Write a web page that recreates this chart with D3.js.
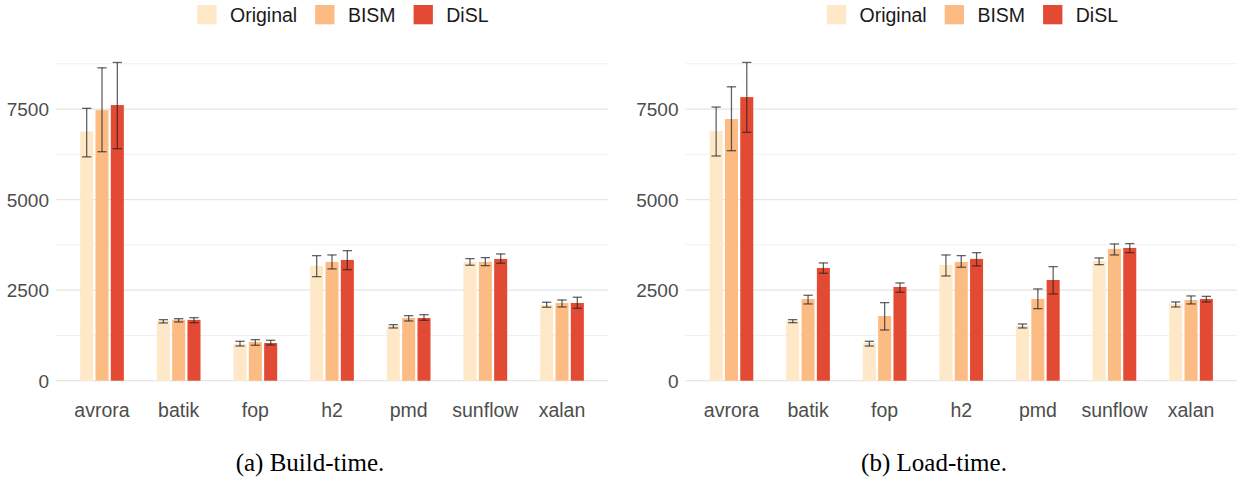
<!DOCTYPE html>
<html>
<head>
<meta charset="utf-8">
<script src="https://cdn.jsdelivr.net/npm/d3@7"></script>
<style>
  body { margin: 0; background: #fff; }
  svg { display: block; }
</style>
</head>
<body>
<div id="chart"></div>
<script>
// benchmarks and series
const benchmarks = ["avrora", "batik", "fop", "h2", "pmd", "sunflow", "xalan"];
const series = ["Original", "BISM", "DiSL"];
const yTicks = [0, 2500, 5000, 7500];
const captions = ["(a) Build-time.", "(b) Load-time."];

// build-time: mean, lower and upper error
const buildOriginal = [6880, 1650, 1015, 3170, 1511, 3279, 2091];
const buildOriginalLo = [6180, 1594, 958, 2873, 1456, 3188, 2028];
const buildOriginalHi = [7520, 1685, 1088, 3453, 1547, 3370, 2166];
const buildBISM = [7470, 1685, 1069, 3279, 1732, 3279, 2146];
const buildBISMLo = [6322, 1622, 978, 3086, 1649, 3177, 2036];
const buildBISMHi = [8638, 1713, 1133, 3472, 1796, 3398, 2229];
const buildDiSL = [7610, 1680, 1041, 3334, 1732, 3362, 2146];
const buildDiSLLo = [6405, 1603, 986, 3066, 1668, 3243, 2000];
const buildDiSLHi = [8786, 1741, 1116, 3591, 1823, 3500, 2304];

// load-time: mean, lower and upper error
const loadOriginal = [6893, 1649, 1041, 3196, 1511, 3307, 2119];
const loadOriginalLo = [6204, 1602, 958, 2892, 1456, 3204, 2036];
const loadOriginalHi = [7555, 1685, 1088, 3472, 1566, 3389, 2174];
const loadBISM = [7224, 2257, 1787, 3279, 2257, 3638, 2229];
const loadBISMLo = [6350, 2119, 1400, 3133, 1989, 3472, 2119];
const loadBISMHi = [8114, 2359, 2155, 3453, 2533, 3776, 2340];
const loadDiSL = [7830, 3113, 2588, 3362, 2781, 3666, 2257];
const loadDiSLLo = [6857, 2966, 2442, 3169, 2395, 3536, 2174];
const loadDiSLHi = [8787, 3251, 2699, 3536, 3149, 3785, 2329];

const width = 1242, height = 479;

const svg = d3.select("#chart")
  .append("svg")
    .attr("width", width)
    .attr("height", height);

const color = d3.scaleOrdinal()
  .domain(series)
  .range(["#fee8c8", "#fdbb84", "#e34a33"]);

// turn the arrays into rows for one panel
function rows(means, los, his) {
  const out = [];
  benchmarks.forEach((b, i) => {
    series.forEach((s, j) => {
      out.push({ bench: b, series: s, value: means[j][i], lo: los[j][i], hi: his[j][i] });
    });
  });
  return out;
}

const panels = [
  { left: 56, right: 608, capX: 310, data: rows([buildOriginal, buildBISM, buildDiSL], [buildOriginalLo, buildBISMLo, buildDiSLLo], [buildOriginalHi, buildBISMHi, buildDiSLHi]) },
  { left: 685.5, right: 1237, capX: 934, data: rows([loadOriginal, loadBISM, loadDiSL], [loadOriginalLo, loadBISMLo, loadDiSLLo], [loadOriginalHi, loadBISMHi, loadDiSLHi]) }
];

panels.forEach(function(p, k) {
  const g = svg.append("g");

  const x = d3.scaleBand()
    .domain(benchmarks)
    .range([p.left, p.right])
    .paddingInner(0)
    .paddingOuter(0.1);

  const groupW = x.bandwidth() * 0.6;
  const x1 = d3.scaleBand()
    .domain(series)
    .range([-groupW / 2, groupW / 2])
    .paddingInner(0.15)
    .paddingOuter(0.075);

  const y = d3.scaleLinear()
    .domain([0, 9000])
    .range([380.7, 380.7 - 9000 * 0.03622]);

  // grid lines (major and minor)
  const grid = d3.range(0, 8751, 1250);
  g.selectAll(".grid")
    .data(grid)
    .enter()
    .append("line")
      .attr("x1", p.left)
      .attr("x2", p.right)
      .attr("y1", d => y(d))
      .attr("y2", d => y(d))
      .attr("stroke", d => d % 2500 === 0 ? "#e6e6e6" : "#eeeeee")
      .attr("stroke-width", d => d % 2500 === 0 ? 1.2 : 0.9);

  // y axis labels
  g.append("g")
    .attr("transform", `translate(${p.left - 7},0)`)
    .call(d3.axisLeft(y).tickValues(yTicks).tickFormat(d3.format("d")).tickSize(0).tickPadding(0))
    .call(a => a.select(".domain").remove())
    .selectAll("text")
      .style("font-family", "'Liberation Sans', Arial, sans-serif")
      .style("font-size", "19px")
      .attr("fill", "#4d4d4d")
      .attr("dy", "0.36em");

  // x axis labels
  g.append("g")
    .attr("transform", `translate(0,${y(0)})`)
    .call(d3.axisBottom(x).tickSize(0).tickPadding(0))
    .call(a => a.select(".domain").remove())
    .selectAll("text")
      .style("font-family", "'Liberation Sans', Arial, sans-serif")
      .style("font-size", "19.5px")
      .attr("fill", "#4d4d4d")
      .attr("dy", null)
      .attr("y", 36);

  const cx = d => x(d.bench) + x.bandwidth() / 2 + x1(d.series) + x1.bandwidth() / 2;

  // bars
  g.selectAll(".bar")
    .data(p.data)
    .enter()
    .append("rect")
      .attr("x", d => x(d.bench) + x.bandwidth() / 2 + x1(d.series))
      .attr("width", x1.bandwidth())
      .attr("y", d => y(d.value))
      .attr("height", d => y(0) - y(d.value))
      .attr("fill", d => color(d.series));

  // error bars
  const capW = 9.3;
  const err = g.selectAll(".err")
    .data(p.data)
    .enter()
    .append("g")
      .attr("stroke", "#222")
      .attr("stroke-opacity", 0.7)
      .attr("stroke-width", 1.3);
  err.append("line")
    .attr("x1", cx).attr("x2", cx)
    .attr("y1", d => y(d.lo)).attr("y2", d => y(d.hi));
  err.append("line")
    .attr("x1", d => cx(d) - capW / 2).attr("x2", d => cx(d) + capW / 2)
    .attr("y1", d => y(d.hi)).attr("y2", d => y(d.hi));
  err.append("line")
    .attr("x1", d => cx(d) - capW / 2).attr("x2", d => cx(d) + capW / 2)
    .attr("y1", d => y(d.lo)).attr("y2", d => y(d.lo));

  // legend
  const leg = g.append("g");
  let lx = p.left + 141.3;
  series.forEach(function(s) {
    leg.append("rect")
      .attr("x", lx).attr("y", 5)
      .attr("width", 19.3).attr("height", 19.3)
      .attr("fill", color(s));
    const t = leg.append("text")
      .attr("x", lx + 32.7).attr("y", 21.6)
      .text(s)
      .style("font-family", "'Liberation Sans', Arial, sans-serif")
      .style("font-size", "19.5px")
      .attr("fill", "#1a1a1a");
    lx += 32.7 + t.node().getComputedTextLength() + 18;
  });

  // caption under the panel
  svg.append("text")
    .attr("text-anchor", "middle")
    .attr("x", p.capX)
    .attr("y", 471)
    .text(captions[k])
    .style("font-family", "'Liberation Serif', 'Times New Roman', serif")
    .style("font-size", "25px")
    .attr("fill", "#000");
});
</script>
</body>
</html>
